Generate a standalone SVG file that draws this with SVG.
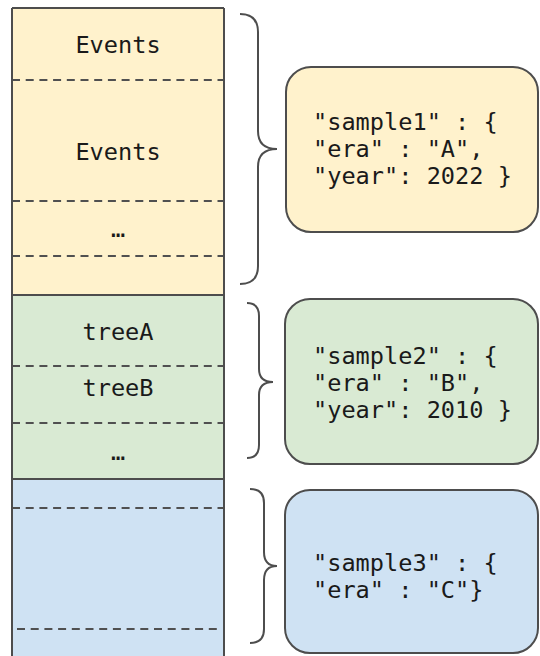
<svg xmlns="http://www.w3.org/2000/svg" width="540" height="656" viewBox="0 0 540 656">
  <style>
    .txt { font-family: "DejaVu Sans Mono", "Liberation Mono", monospace; font-size: 23.6px; fill: #1a1a1a; }
    .mid { text-anchor: middle; }
    .edge { stroke: #4d4d4d; stroke-width: 2; fill: none; }
    .dash { stroke: #505050; stroke-width: 2; stroke-dasharray: 8 5.7; fill: none; }
    .brace { stroke: #4d4d4d; stroke-width: 2; fill: none; }
    .box { stroke: #4d4d4d; stroke-width: 2; }
    .yellow { fill: #fff2cc; }
    .green { fill: #d9ead3; }
    .blue { fill: #cfe2f3; }
  </style>

  <!-- stacked column: one section per sample -->
  <g id="column-sample1">
    <rect class="yellow" x="12" y="8" width="212" height="287"/>
    <line class="dash" x1="12" y1="80" x2="224" y2="80"/>
    <line class="dash" x1="12" y1="201" x2="224" y2="201"/>
    <line class="dash" x1="12" y1="256" x2="224" y2="256"/>
    <text class="txt mid" x="118" y="53">Events</text>
    <text class="txt mid" x="118" y="160">Events</text>
    <text class="txt mid" x="118" y="237">…</text>
  </g>

  <g id="column-sample2">
    <rect class="green" x="12" y="295" width="212" height="184"/>
    <line class="dash" x1="12" y1="366" x2="224" y2="366"/>
    <line class="dash" x1="12" y1="423" x2="224" y2="423"/>
    <text class="txt mid" x="118" y="340">treeA</text>
    <text class="txt mid" x="118" y="396">treeB</text>
    <text class="txt mid" x="118" y="460">…</text>
  </g>

  <g id="column-sample3">
    <rect class="blue" x="12" y="479" width="212" height="185"/>
    <line class="dash" x1="12" y1="508" x2="224" y2="508"/>
    <line class="dash" x1="17" y1="629" x2="222" y2="629"/>
  </g>

  <!-- outer frame and section dividers -->
  <g id="column-frame">
    <line class="edge" x1="12" y1="8" x2="224" y2="8"/>
    <line class="edge" x1="12" y1="8" x2="12" y2="656"/>
    <line class="edge" x1="224" y1="8" x2="224" y2="656"/>
    <line class="edge" x1="12" y1="295" x2="224" y2="295"/>
    <line class="edge" x1="12" y1="479" x2="224" y2="479"/>
  </g>

  <!-- braces linking each section to its metadata -->
  <g id="connectors">
    <path class="brace" d="M240,14 Q258,14 258,32 V131 Q258,149 277,149 Q258,149 258,167 V266 Q258,284 240,284"/>
    <path class="brace" d="M247,303 Q259,303 259,316 V369 Q259,382 273,382 Q259,382 259,395 V445 Q259,458 247,458"/>
    <path class="brace" d="M250,489 Q264,489 264,503 V552 Q264,566 277,566 Q264,566 264,580 V629 Q264,643 250,643"/>
  </g>

  <!-- metadata cards -->
  <g id="meta-sample1">
    <rect class="box yellow" x="286" y="67" width="252" height="165" rx="25"/>
    <text class="txt" x="313" y="130">"sample1" : {</text>
    <text class="txt" x="313" y="157">"era" : "A",</text>
    <text class="txt" x="313" y="184">"year": 2022 }</text>
  </g>

  <g id="meta-sample2">
    <rect class="box green" x="285" y="299" width="253" height="165" rx="25"/>
    <text class="txt" x="313" y="364">"sample2" : {</text>
    <text class="txt" x="313" y="391">"era" : "B",</text>
    <text class="txt" x="313" y="418">"year": 2010 }</text>
  </g>

  <g id="meta-sample3">
    <rect class="box blue" x="285" y="490" width="253" height="163" rx="25"/>
    <text class="txt" x="313" y="571">"sample3" : {</text>
    <text class="txt" x="313" y="598">"era" : "C"}</text>
  </g>
</svg>
